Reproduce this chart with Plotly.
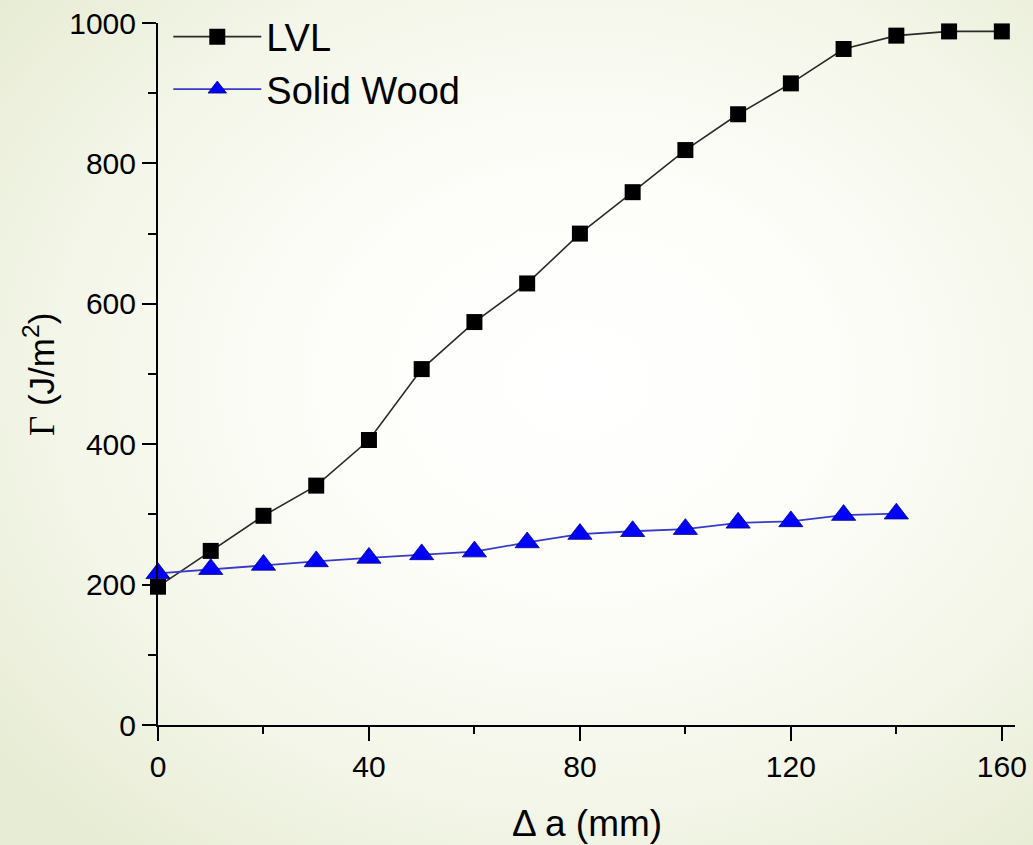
import base64
import plotly.graph_objects as go

# ---- data ----
delta_a = [0, 10, 20, 30, 40, 50, 60, 70, 80, 90, 100, 110, 120, 130, 140, 150, 160]
lvl = [197, 248, 298, 341, 406, 507, 574, 629, 700, 759, 819, 870, 914, 963, 982, 988, 988]
delta_a_wood = [0, 10, 20, 30, 40, 50, 60, 70, 80, 90, 100, 110, 120, 130, 140]
solid_wood = [216, 222, 228, 233, 238, 243, 247, 260, 272, 276, 279, 288, 290, 299, 301]

x_ticks = [0, 40, 80, 120, 160]
y_ticks = [0, 200, 400, 600, 800, 1000]

FONT = "Arial, 'Liberation Sans', sans-serif"

W, H = 1033, 845
L, R, T, B = 158, 18, 23, 120
pw, ph = W - L - R, H - T - B

svg = f"""<svg xmlns='http://www.w3.org/2000/svg' width='{W}' height='{H}'>
<defs><radialGradient id='g' cx='0.56' cy='0.45' r='0.72'>
<stop offset='0' stop-color='#ffffff'/>
<stop offset='0.35' stop-color='#fdfdf9'/>
<stop offset='0.7' stop-color='#f3f6e8'/>
<stop offset='1' stop-color='#e7ecd4'/>
</radialGradient></defs>
<rect width='{W}' height='{H}' fill='url(#g)'/></svg>"""
bg_src = "data:image/svg+xml;base64," + base64.b64encode(svg.encode()).decode()

fig = go.Figure()
fig.add_trace(go.Scatter(
    x=delta_a, y=lvl, name="LVL", mode="lines+markers",
    line=dict(color="#2a2a2a", width=1.6),
    marker=dict(symbol="square", size=16, color="#000000"),
    cliponaxis=False,
))
fig.add_trace(go.Scatter(
    x=delta_a_wood, y=solid_wood, name="Solid Wood", mode="lines+markers",
    line=dict(color="#3a3ac8", width=1.8),
    marker=dict(symbol="triangle-up", size=21, color="#0000ff",
                line=dict(color="#00008b", width=0.8)),
    cliponaxis=False,
))

axis_common = dict(
    showline=True, linecolor="black", linewidth=2,
    ticks="outside", ticklen=14, tickwidth=2, tickcolor="black",
    showgrid=False, zeroline=False, mirror=False,
    tickfont=dict(family=FONT, size=30, color="black"),
)

fig.update_xaxes(
    range=[0, 162.5], tickvals=x_ticks, ticktext=[str(v) for v in x_ticks],
    minor=dict(ticks="outside", ticklen=7, tickwidth=2, tickcolor="black",
               dtick=20, tick0=0, showgrid=False),
    **axis_common,
)
fig.update_yaxes(
    range=[0, 1000], tickvals=y_ticks, ticktext=[str(v) for v in y_ticks],
    minor=dict(ticks="outside", ticklen=8, tickwidth=2, tickcolor="black",
               dtick=100, tick0=0, showgrid=False),
    **axis_common,
)

fig.add_annotation(
    text="Δ a (mm)", xref="paper", yref="paper",
    x=0.5, y=(T + ph - 823) / ph, xanchor="center", yanchor="middle",
    showarrow=False, font=dict(family=FONT, size=37, color="black"),
)
fig.add_annotation(
    text="<span style='font-family:\"Liberation Serif\", \"Times New Roman\", serif'>Γ</span> (J/m<sup>2</sup>)",
    xref="paper", yref="paper",
    x=(40 - L) / pw, y=(T + ph - 375) / ph, xanchor="center", yanchor="middle",
    textangle=-90, showarrow=False, font=dict(family=FONT, size=35, color="black"),
)

fig.update_layout(
    width=W, height=H,
    margin=dict(l=L, r=R, t=T, b=B, autoexpand=False),
    paper_bgcolor="#f4f6ea", plot_bgcolor="rgba(0,0,0,0)",
    showlegend=True,
    legend=dict(
        x=0.012, y=1.025, xanchor="left", yanchor="top",
        bgcolor="rgba(0,0,0,0)", borderwidth=0,
        font=dict(family=FONT, size=38, color="black"),
        itemwidth=88, tracegroupgap=0,
    ),
    images=[dict(
        source=bg_src, xref="paper", yref="paper",
        x=-L / pw, y=1 + T / ph, sizex=W / pw, sizey=H / ph,
        xanchor="left", yanchor="top", sizing="stretch", layer="below",
    )],
)

fig.write_html("out.html")
